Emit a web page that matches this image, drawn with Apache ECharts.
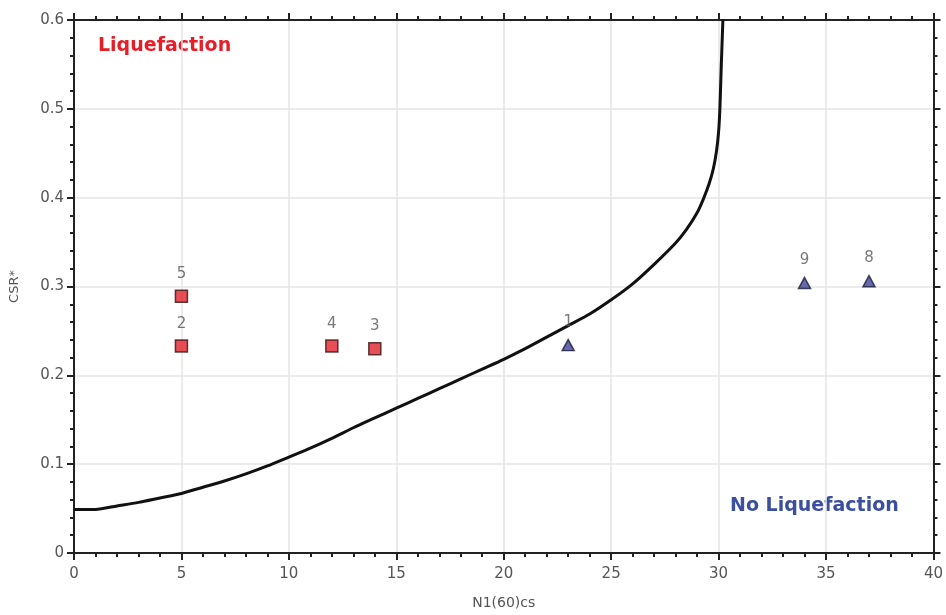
<!DOCTYPE html>
<html><head><meta charset="utf-8">
<script src="https://cdn.jsdelivr.net/npm/echarts@6/dist/echarts.min.js"></script>
<style>html,body{margin:0;padding:0;background:#fff}#c{width:946px;height:615px}</style>
</head><body><div id="c"></div>
<script>
const curveN   = [0,1,2,3,4,5,6,7,8,9,10,11,12,13,14,15,16,17,18,19,20,21,22,23,24,25,26,27,28,28.5,29,29.3,29.55,29.75,29.9,30,30.06,30.12,30.2];
const curveCSR = [0.049,0.049,0.053,0.057,0.062,0.067,0.074,0.081,0.089,0.098,0.108,0.118,0.129,0.141,0.152,0.163,0.174,0.185,0.196,0.207,0.218,0.230,0.243,0.256,0.269,0.285,0.303,0.325,0.349,0.364,0.383,0.399,0.415,0.432,0.452,0.474,0.500,0.545,0.600];
const liqIds = ['5','2','4','3'];
const liqN   = [5,5,12,14];
const liqCSR = [0.289,0.233,0.233,0.230];
const noIds  = ['1','9','8'];
const noN    = [23,34,37];
const noCSR  = [0.234,0.304,0.306];
const xTicks = [0,5,10,15,20,25,30,35,40];
const yTicks = [0,0.1,0.2,0.3,0.4,0.5,0.6];

const chart = echarts.init(document.getElementById('c'), null, {renderer:'canvas'});
const lbl = {color:'#555', fontFamily:'DejaVu Sans', fontSize:15};
const axLine = {show:true, onZero:false, lineStyle:{color:'#222', width:2}};
function xAx(pos, showLabel){
  return {type:'value', position:pos, min:xTicks[0], max:xTicks[xTicks.length-1], interval:xTicks[1]-xTicks[0],
    axisLine:axLine, axisTick:{show:true, inside:false, length:7, lineStyle:{color:'#222', width:2}},
    minorTick:{show:true, splitNumber:5, length:4, lineStyle:{color:'#222', width:2}},
    splitLine:{show:pos==='bottom', lineStyle:{color:'#e4e4e4', width:1.5}},
    axisLabel:{show:showLabel, ...lbl, margin:14, formatter:v=>String(v)},
    name: showLabel ? 'N1(60)cs' : '', nameLocation:'middle', nameGap:43,
    nameTextStyle:{color:'#555', fontFamily:'DejaVu Sans', fontSize:14}};
}
function yAx(pos, showLabel){
  return {type:'value', position:pos, min:yTicks[0], max:yTicks[yTicks.length-1], interval:0.1,
    axisLine:axLine, axisTick:{show:true, inside:false, length:7, lineStyle:{color:'#222', width:2}},
    minorTick:{show:true, splitNumber:5, length:4, lineStyle:{color:'#222', width:2}},
    splitLine:{show:pos==='left', lineStyle:{color:'#e4e4e4', width:1.5}},
    axisLabel:{show:showLabel, ...lbl, margin:10, formatter:v=>v===0?'0':v.toFixed(1)},
    name: showLabel ? 'CSR*' : '', nameLocation:'middle', nameGap:53, nameRotate:90,
    nameTextStyle:{color:'#555', fontFamily:'DejaVu Sans', fontSize:13}};
}
chart.setOption({
  animation:false,
  backgroundColor:'#fff',
  grid:{left:72, right:12, top:20, bottom:60, containLabel:false},
  xAxis:[xAx('bottom', true), xAx('top', false)],
  yAxis:[yAx('left', true), yAx('right', false)],
  graphic:[
    {type:'text', left:98, top:37, style:{text:'Liquefaction', fill:'#e61e28', font:'bold 19px "DejaVu Sans"'}},
    {type:'text', left:730, top:497, style:{text:'No Liquefaction', fill:'#3b4fa0', font:'bold 19px "DejaVu Sans"'}}
  ],
  series:[
    {type:'line', xAxisIndex:0, yAxisIndex:0, data:curveN.map((n,i)=>[n,curveCSR[i]]), showSymbol:false, smooth:0.25,
     lineStyle:{color:'#111', width:3}, z:3},
    {type:'scatter', xAxisIndex:0, yAxisIndex:0, data:liqN.map((n,i)=>({value:[n,liqCSR[i]], name:liqIds[i]})),
     symbol:'rect', symbolSize:12, itemStyle:{color:'#e2222c', borderColor:'#3a1212', borderWidth:1.5},
     label:{show:true, position:'top', distance:8, formatter:p=>p.name, ...lbl}, z:4},
    {type:'scatter', xAxisIndex:0, yAxisIndex:0, data:noN.map((n,i)=>({value:[n,noCSR[i]], name:noIds[i]})),
     symbol:'triangle', symbolSize:[12,11], itemStyle:{color:'#40449a', borderColor:'#1a1a3a', borderWidth:1.5},
     label:{show:true, position:'top', distance:9, formatter:p=>p.name, ...lbl}, z:4}
  ]
});
</script></body></html>
